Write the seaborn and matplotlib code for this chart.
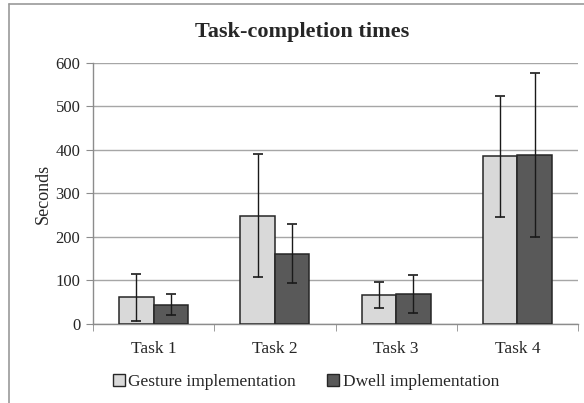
#!/usr/bin/env python3
# -*- coding: utf-8 -*-

import numpy as np
import pandas as pd
import matplotlib
matplotlib.use("Agg")
import matplotlib.pyplot as plt
from matplotlib.lines import Line2D
from matplotlib.patches import Patch
import seaborn as sns

# values
tasks = ["Task 1", "Task 2", "Task 3", "Task 4"]
methods = ["Gesture implementation", "Dwell implementation"]
gesture_mean = [61, 249, 67, 386]
gesture_err = [54, 142, 30, 139]
dwell_mean = [44, 162, 69, 389]
dwell_err = [24, 68, 43, 188]
yticks = [0, 100, 200, 300, 400, 500, 600]

light = "#d9d9d9"
dark = "#595959"

df = pd.DataFrame({
    "task": tasks * 2,
    "method": [methods[0]] * 4 + [methods[1]] * 4,
    "seconds": gesture_mean + dwell_mean,
})
errs = [gesture_err, dwell_err]

sns.set_style("white")
plt.rcParams['font.family'] = ['Liberation Serif', 'DejaVu Serif']

fig = plt.figure(figsize=(5.84, 4.03), dpi=100)
ax = fig.add_axes([0.159, 0.196, 0.831, 0.648])

sns.barplot(data=df, x="task", y="seconds", hue="method",
            palette=[light, dark], width=0.57, errorbar=None,
            edgecolor="#262626", linewidth=1.1, ax=ax, zorder=3)

# error bars on top of each bar
for cont, err in zip(ax.containers, errs):
    xs = [p.get_x() + p.get_width() / 2 for p in cont.patches]
    hs = [p.get_height() for p in cont.patches]
    ax.errorbar(xs, hs, yerr=err, fmt="none", ecolor="#1a1a1a",
                elinewidth=1.0, capsize=3.5, capthick=1.2, zorder=4)

ax.set_ylim(0, 600)
ax.set_yticks(yticks)
ax.set_xlim(-0.5, 3.5)
ax.yaxis.grid(True, color="#a6a6a6", linewidth=1.0, zorder=0)
ax.set_axisbelow(True)

for s in ["top", "right"]:
    ax.spines[s].set_visible(False)
for s in ["left", "bottom"]:
    ax.spines[s].set_color("#8c8c8c")
    ax.spines[s].set_linewidth(1.0)

ax.tick_params(axis="y", which="major", length=5, color="#8c8c8c",
               labelsize=12, pad=4, direction="out", left=True)
ax.tick_params(axis="x", which="major", length=0, labelsize=12.5, pad=12)
ax.set_xticks([-0.5, 0.5, 1.5, 2.5, 3.5], minor=True)
ax.tick_params(axis="x", which="minor", length=5, color="#8c8c8c",
               direction="out", bottom=True)

ax.set_xlabel("")
ax.set_ylabel("Seconds", fontsize=13, labelpad=3)
fig.suptitle("Task-completion times", fontsize=16, fontweight="bold",
             x=0.517, y=0.945)

ax.get_legend().remove()
handles = [Patch(facecolor=light, edgecolor="#262626", linewidth=1.0),
           Patch(facecolor=dark, edgecolor="#262626", linewidth=1.0)]
fig.legend(handles, methods, loc="center", bbox_to_anchor=(0.524, 0.053),
           ncol=2, frameon=False, fontsize=12.5, handlelength=0.7,
           handleheight=0.7, handletextpad=0.2, columnspacing=1.8)

# outer chart frame (only left/top edges are visible in the crop)
fig.add_artist(Line2D([9 / 584, 9 / 584], [0, 1 - 4 / 403],
                      transform=fig.transFigure, color="#9a9a9a", lw=1.2))
fig.add_artist(Line2D([9 / 584, 1], [1 - 4 / 403, 1 - 4 / 403],
                      transform=fig.transFigure, color="#9a9a9a", lw=1.2))

fig.savefig("out.png", dpi=100, facecolor="white")
